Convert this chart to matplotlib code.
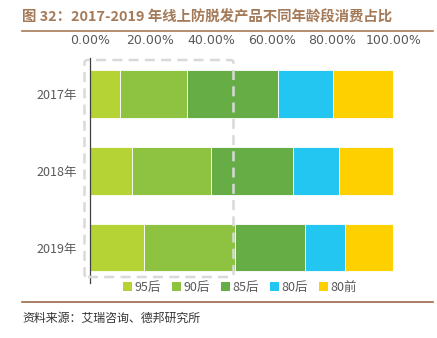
import matplotlib.pyplot as plt
from matplotlib.patches import FancyBboxPatch, Patch
from matplotlib.lines import Line2D

plt.rcParams['font.family'] = ['Noto Sans CJK SC', 'DejaVu Sans']

years = ["2017年", "2018年", "2019年"]
groups = ["95后", "90后", "85后", "80后", "80前"]
shares = {
    "95后": [10, 14, 18],
    "90后": [22, 26, 30],
    "85后": [30, 27, 23],
    "80后": [18, 15, 13],
    "80前": [20, 18, 16],
}
colors = ["#b5d334", "#8dc340", "#66ad46", "#22c6f0", "#ffd000"]
ticks = [0, 20, 40, 60, 80, 100]

W, H = 437, 338
fig = plt.figure(figsize=(W / 100, H / 100), dpi=100)


def fx(px):
    return px / W


def fy(py):
    return 1 - py / H


# axes: x 0..100 maps to px 89.7..393.3, y from px 62 to 279
ax = fig.add_axes([fx(89.7), fy(279), fx(393.3) - fx(89.7), fy(62) - fy(279)])
ypos = list(range(len(years)))
left = [0] * len(years)
for g, c in zip(groups, colors):
    vals = shares[g]
    ax.barh(ypos, vals, left=left, height=0.62, color=c, edgecolor="white", linewidth=0.6, label=g)
    left = [a + b for a, b in zip(left, vals)]

ax.set_xlim(0, 100)
ax.set_ylim(2.41, -0.416)
ax.xaxis.tick_top()
ax.set_xticks(ticks)
ax.set_xticklabels([f"{t:.2f}%" for t in ticks], fontsize=9, color="#595959", family="DejaVu Sans")
ax.tick_params(axis="x", length=0, pad=11)
ax.set_yticks(ypos)
ax.set_yticklabels(years, fontsize=9, color="#595959")
ax.tick_params(axis="y", length=0, pad=9)
for s in ["top", "right", "bottom", "left"]:
    ax.spines[s].set_visible(False)

# y axis line
fig.add_artist(Line2D([fx(89.5), fx(89.5)], [fy(58), fy(283)], color="#404040", lw=0.9))

# dashed highlight box
box = FancyBboxPatch((fx(84.5), fy(277)), fx(233.5) - fx(84.5), fy(60) - fy(277),
                     boxstyle="round,pad=0,rounding_size=0.008", transform=fig.transFigure,
                     fill=False, edgecolor="#d9d9d9", linestyle=(0, (4, 2.5)), lw=1.8, zorder=5)
fig.add_artist(box)

handles = [Patch(facecolor=c, edgecolor="none") for c in colors]
fig.legend(handles, groups, loc="center", bbox_to_anchor=(fx(240), fy(287)), ncol=5,
           frameon=False, fontsize=9, handlelength=0.7, handleheight=0.7, handletextpad=0.2,
           columnspacing=0.9, labelcolor="#595959")

brown = "#a47a58"
fig.text(fx(22), fy(17), "图 32：2017-2019 年线上防脱发产品不同年龄段消费占比", fontsize=10.4,
         fontweight="bold", color=brown, va="center", ha="left")
fig.add_artist(Line2D([fx(22), fx(433)], [fy(31), fy(31)], color=brown, lw=1.2))
fig.add_artist(Line2D([fx(22), fx(433)], [fy(302), fy(302)], color="#9a6a4a", lw=1.2))
fig.text(fx(22), fy(318), "资料来源：艾瑞咨询、德邦研究所", fontsize=8.6, color="#333333",
         va="center", ha="left")

fig.savefig("out.png", dpi=100)
